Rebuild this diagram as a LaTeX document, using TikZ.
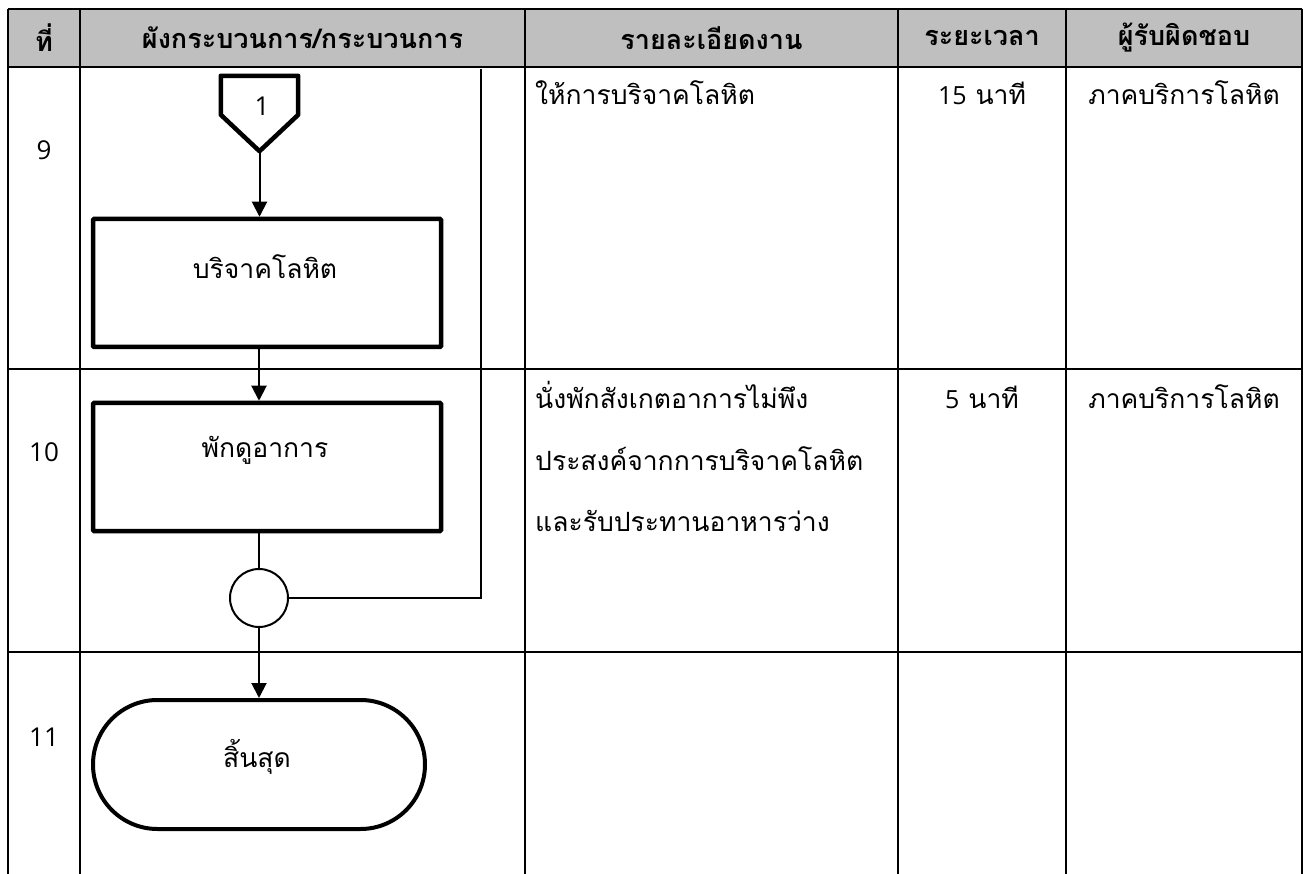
\documentclass[tikz,border=0pt]{standalone}
\usepackage{fontspec}
\setmainfont[Script=Thai]{Loma}
\newfontfamily\latinf{Open Sans}
\usetikzlibrary{arrows.meta,shapes.misc,calc}
\definecolor{hdrgray}{HTML}{BFBFBF}
\tikzset{
  tbl/.style={line width=2.2pt, black},
  hdrtext/.style={font=\fontsize{27}{30}\selectfont\bfseries, inner sep=0pt},
  bodytext/.style={font=\fontsize{26.5}{30}\selectfont, inner sep=0pt},
  numtext/.style={font=\fontsize{26}{30}\latinf, inner sep=0pt},
  procbox/.style={draw, line width=4.5pt, rounded corners=1pt, minimum width=348pt, minimum height=128pt, inner sep=0pt},
  termbox/.style={draw, line width=4pt, rounded rectangle, rounded rectangle arc length=180, minimum width=332pt, minimum height=129pt, inner sep=0pt},
  joincirc/.style={draw, circle, line width=2pt, minimum size=58pt, inner sep=0pt},
  flowarr/.style={line width=2pt, -{Triangle[length=15pt,width=15pt]}},
  flowline/.style={line width=2pt},
  loopline/.style={line width=1.5pt},
  pentshape/.style={line width=4.5pt, line join=round}
}
\begin{document}
\begin{tikzpicture}[x=1pt,y=-1pt]
\useasboundingbox (0,0) rectangle (1304,874);
% header background
\fill[hdrgray] (8,9) rectangle (1302,67);
% table grid
\draw[tbl] (8,9) -- (1302,9);
\draw[tbl] (8,67) -- (1302,67);
\draw[tbl] (8,369) -- (1302,369);
\draw[tbl] (8,652) -- (1302,652);
\foreach \xx in {8,80,525,898,1066,1302} \draw[tbl] (\xx,9) -- (\xx,874);
% header texts
\node[hdrtext] (h1) at (44,38) {ที่};
\node[hdrtext] (h2) at (302.5,38) {ผังกระบวนการ/กระบวนการ};
\node[hdrtext] (h3) at (711.5,38) {รายละเอียดงาน};
\node[hdrtext] (h4) at (982,38) {ระยะเวลา};
\node[hdrtext] (h5) at (1184,38) {ผู้รับผิดชอบ};
% row numbers
\node[numtext] (r9) at (44,150) {9};
\node[numtext] (r10) at (44,452) {10};
\node[numtext] (r11) at (44,737) {11};
% flow shapes
\node[minimum width=77pt, minimum height=75pt, inner sep=0pt] (c1) at (259.5,113.5) {};
\draw[pentshape] (c1.north west) -- (c1.north east) -- ($(c1.north east)+(0,39)$) -- (c1.south) -- ($(c1.north west)+(0,39)$) -- cycle;
\node[numtext] (c1t) at (262,106) {1};
\node[procbox] (b1) at (267,283) {};
\node[bodytext] (b1t) at (265,267) {บริจาคโลหิต};
\node[procbox] (b2) at (267,467) {};
\node[bodytext] (b2t) at (265,450) {พักดูอาการ};
\node[joincirc] (jc) at (259,598) {};
\node[termbox] (tm) at (259,764.5) {};
\node[bodytext] (tmt) at (257,757) {สิ้นสุด};
\coordinate (looptop) at (481,69);
% connectors
\draw[flowarr] (c1.south) -- (c1.south |- b1.north);
\draw[flowarr] (jc.north |- b1.south) -- (jc.north |- b2.north);
\draw[flowline] (jc.north |- b2.south) -- (jc.north);
\draw[flowarr] (jc.south) -- (tm.north);
\draw[loopline] (jc.east) -| (looptop);
% detail texts
\node[bodytext, anchor=base west] (d1) at (535,105) {ให้การบริจาคโลหิต};
\node[bodytext, anchor=base] (t1) at (982,105) {{\latinf\fontsize{25}{28}\selectfont 15} นาที};
\node[bodytext, anchor=base] (p1) at (1184,105) {ภาคบริการโลหิต};
\node[bodytext, anchor=base west] (d2a) at (535,409) {นั่งพักสังเกตอาการไม่พึง};
\node[bodytext, anchor=base west] (d2b) at (535,470) {ประสงค์จากการบริจาคโลหิต};
\node[bodytext, anchor=base west] (d2c) at (535,531) {และรับประทานอาหารว่าง};
\node[bodytext, anchor=base] (t2) at (982,409) {{\latinf\fontsize{25}{28}\selectfont 5} นาที};
\node[bodytext, anchor=base] (p2) at (1184,409) {ภาคบริการโลหิต};
\end{tikzpicture}
\end{document}
